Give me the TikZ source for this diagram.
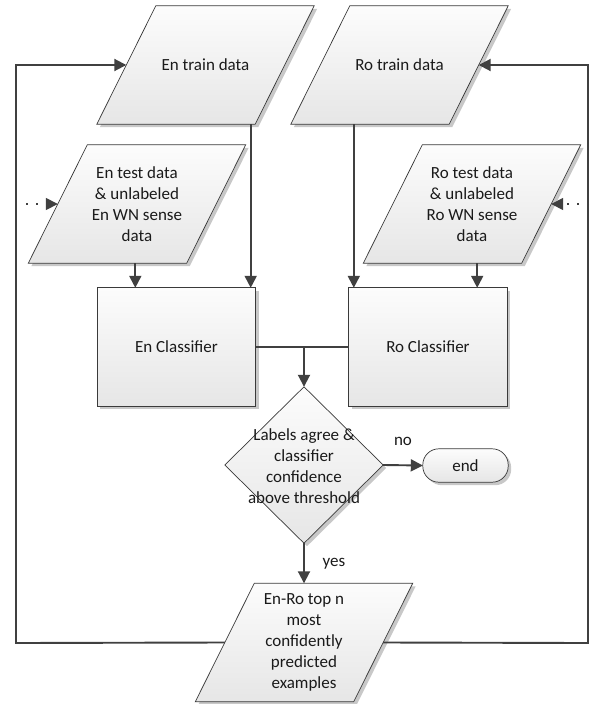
\documentclass[tikz,border=0pt]{standalone}
\usepackage{fontspec}
\setmainfont{Carlito}
\usetikzlibrary{arrows.meta,shapes.geometric,backgrounds,calc}
\definecolor{linec}{HTML}{404040}
\definecolor{bordc}{HTML}{3A3A3A}
\definecolor{shadowc}{HTML}{C8C8C8}
\definecolor{fillt}{HTML}{FCFCFC}
\definecolor{fillb}{HTML}{E6E6E6}
\definecolor{txtc}{HTML}{1A1A1A}
\tikzset{
  txt/.style={font=\fontsize{17}{21}\selectfont, text=txtc, align=center, inner sep=0pt},
  parabox/.style={txt, minimum width=217pt, minimum height=118pt, shape=rectangle},
  shapefill/.style={top color=fillt, bottom color=fillb, draw=bordc, line width=0.7pt},
  procbox/.style={txt, shape=rectangle, minimum width=158pt, minimum height=118pt},
  decbox/.style={diamond, minimum width=158pt, minimum height=156pt, inner sep=0pt},
  endbox/.style={txt, shape=rectangle, minimum width=85pt, minimum height=33pt},
  conn/.style={draw=linec, line width=1.9pt},
  arr/.style={conn, -{Triangle[length=12pt,width=12pt]}},
  dotarr/.style={draw=linec, line width=1.6pt, dash pattern=on 1.6pt off 8.4pt, -{Triangle[length=12pt,width=12pt]}},
  lbl/.style={font=\fontsize{17}{21}\selectfont, text=txtc, inner sep=0pt}
}
\newcommand{\parashape}[2]{%
  \fill[shadowc] ([shift={(3,3)}]#1.south west) -- ([shift={(-#2+3,3)}]#1.south east) -- ([shift={(3,3)}]#1.north east) -- ([shift={(#2+3,3)}]#1.north west) -- cycle;
  \shadedraw[shapefill] (#1.south west) -- ([xshift=-#2pt]#1.south east) -- (#1.north east) -- ([xshift=#2pt]#1.north west) -- cycle;}
\newcommand{\rectshape}[1]{%
  \fill[shadowc] ([shift={(3,3)}]#1.south west) rectangle ([shift={(3,3)}]#1.north east);
  \shadedraw[shapefill] (#1.south west) rectangle (#1.north east);}
\begin{document}
\begin{tikzpicture}[x=1pt,y=-1pt]
\useasboundingbox (0,0) rectangle (592,704);

% text / box nodes
\node[parabox] (entrain) at (205.5,65) {En train data};
\node[parabox] (rotrain) at (399.5,65) {Ro train data};
\node[parabox] (entest) at (137,204) {En test data\\\& unlabeled\\En WN sense\\data};
\node[parabox] (rotest) at (472,204) {Ro test data\\\& unlabeled\\Ro WN sense\\data};
\node[procbox] (enc) at (176.5,347) {En Classifier};
\node[procbox] (roc) at (428,347) {Ro Classifier};
\node[decbox] (dec) at (304,465) {};
\node[txt] (dectext) at (304,466) {Labels agree \&\\classifier\\confidence\\above threshold};
\node[endbox] (endn) at (465.5,465.5) {end};
\node[parabox] (enro) at (304,642.5) {En-Ro top n\\most\\confidently\\predicted\\examples};

% shapes on background
\begin{scope}[on background layer]
  \fill[white] (0,0) rectangle (592,704);
  \parashape{entrain}{59}
  \parashape{rotrain}{59}
  \parashape{entest}{59}
  \parashape{rotest}{59}
  \parashape{enro}{59}
  \rectshape{enc}
  \rectshape{roc}
  \fill[shadowc] ([shift={(3,3)}]dec.north) -- ([shift={(3,3)}]dec.east) -- ([shift={(3,3)}]dec.south) -- ([shift={(3,3)}]dec.west) -- cycle;
  \shadedraw[shapefill] (dec.north) -- (dec.east) -- (dec.south) -- (dec.west) -- cycle;
  \fill[shadowc, rounded corners=16pt] ([shift={(3,3)}]endn.south west) rectangle ([shift={(3,3)}]endn.north east);
  \shadedraw[shapefill, rounded corners=16pt] (endn.south west) rectangle (endn.north east);
\end{scope}

% corner coordinates
\coordinate (lc) at (16,643);
\coordinate (rc) at (588,643);
\coordinate (ld) at (26,204);
\coordinate (rd) at (589,204);

% feedback loop
\draw[arr] ([xshift=29.5pt]enro.west) -- (lc) |- ([xshift=29.5pt]entrain.west);
\draw[arr] ([xshift=-29.5pt]enro.east) -- (rc) |- ([xshift=-29.5pt]rotrain.east);

% train data to classifiers
\draw[arr] ([xshift=-5pt]enc.north east |- entrain.south) -- ([xshift=-5pt]enc.north east);
\draw[arr] ([xshift=5pt]roc.north west |- rotrain.south) -- ([xshift=5pt]roc.north west);

% test data to classifiers
\draw[arr] ([xshift=38pt]enc.north west |- entest.south) -- ([xshift=38pt]enc.north west);
\draw[arr] ([xshift=-30pt]roc.north east |- rotest.south) -- ([xshift=-30pt]roc.north east);

% dotted inputs
\draw[dotarr] (ld) -- ([xshift=29.5pt]entest.west);
\draw[dotarr] (rd) -- ([xshift=-29.5pt]rotest.east);

% classifiers to decision
\draw[conn] (enc.east) -- (roc.west);
\draw[arr] (dec.north |- enc.east) -- (dec.north);

% decision outputs
\draw[arr] (dec.east) -- (endn.west);
\node[lbl] (nolbl) at (403,441) {no};
\draw[arr] (dec.south) -- (enro.north);
\node[lbl] (yeslbl) at (334,564) {yes};
\end{tikzpicture}
\end{document}
